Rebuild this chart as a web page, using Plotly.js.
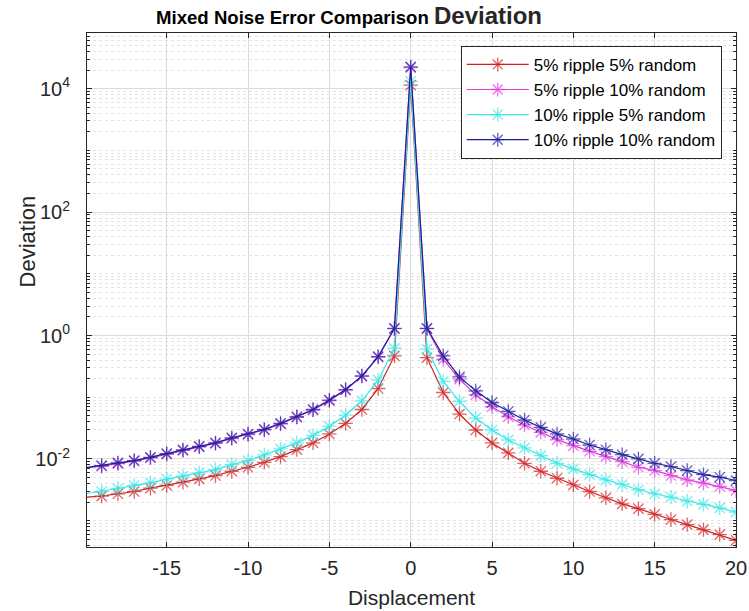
<!DOCTYPE html>
<html>
<head>
<meta charset="utf-8">
<script src="https://cdn.plot.ly/plotly-3.0.1.min.js"></script>
<style>html,body{margin:0;padding:0;background:#fff;}#chart{width:749px;height:611px;}</style>
</head>
<body>
<div id="chart"></div>
<script>
// Displacement values
const displacement = [-20,-19,-18,-17,-16,-15,-14,-13,-12,-11,-10,-9,-8,-7,-6,-5,-4,-3,-2,-1,0,1,2,3,4,5,6,7,8,9,10,11,12,13,14,15,16,17,18,19,20];

// Series names
const seriesNames = ["5% ripple 5% random", "5% ripple 10% random", "10% ripple 5% random", "10% ripple 10% random"];

// Deviation values
const r5n5 = [0.00240,0.00249,0.00272,0.00296,0.00335,0.00371,0.00419,0.00475,0.00537,0.00631,0.00731,0.00881,0.01089,0.01413,0.01816,0.02535,0.03758,0.0632,0.1384,0.4667,
  11430,
  0.4365,0.1191,0.0533,0.0294,0.01816,0.01250,0.00849,0.00631,0.00486,0.00380,0.00296,0.00234,0.00187,0.00156,0.00126,0.00104,0.000859,0.000713,0.000592,0.000479];
const r5n10 = [0.0071,0.0076,0.0084,0.0092,0.0104,0.0119,0.0137,0.0156,0.0178,0.0214,0.0248,0.0294,0.0368,0.0472,0.0620,0.0880,0.1305,0.2180,0.4480,1.29,
  22000,
  1.29,0.412,0.196,0.1094,0.0700,0.0482,0.0354,0.0269,0.0205,0.0164,0.0133,0.0109,0.00904,0.00731,0.00647,0.00537,0.00458,0.00404,0.00357,0.00308];
const r10n5 = [0.00272,0.00296,0.00331,0.00371,0.00409,0.00469,0.00525,0.00594,0.00671,0.00809,0.00940,0.01161,0.01452,0.01816,0.02404,0.03365,0.0514,0.0875,0.1888,0.621,
  13180,
  0.603,0.1795,0.0853,0.0459,0.0294,0.0203,0.01507,0.01130,0.00849,0.00689,0.00557,0.00458,0.00385,0.00316,0.00272,0.00240,0.00207,0.00183,0.00161,0.00137];
const r10n10 = [0.00724,0.00780,0.00861,0.00940,0.01062,0.01219,0.01400,0.01596,0.01816,0.02188,0.02535,0.03006,0.03758,0.04819,0.06324,0.08974,0.1330,0.2218,0.4550,1.306,
  22590,
  1.306,0.4667,0.2138,0.1268,0.0820,0.0587,0.0427,0.0324,0.0254,0.0210,0.0168,0.0141,0.0117,0.0100,0.00849,0.00752,0.00647,0.00557,0.00505,0.00446];

// Tick labels
const yTickVals = [1e-2, 1, 1e2, 1e4];
const yTickText = ["10<sup>-2</sup>", "10<sup>0</sup>", "10<sup>2</sup>", "10<sup>4</sup>"];
const xTickVals = [-15,-10,-5,0,5,10,15,20];
const xTickText = ["-15","-10","-5","0","5","10","15","20"];

const colors = ["#d02020", "#e03ce0", "#3ae6e6", "#1c1c9c"];
const allSeries = [r5n5, r5n10, r10n5, r10n10];

// marker sizes: hide the off-axis first point marker
const markerSizes = displacement.map(x => x < -19.5 ? 0 : 12);

const traces = allSeries.map((ys, i) => ({
  x: displacement,
  y: ys,
  name: seriesNames[i],
  type: "scatter",
  mode: "lines+markers",
  line: {color: colors[i], width: 1.2},
  marker: {symbol: "asterisk-open", size: markerSizes, color: colors[i], line: {color: colors[i], width: 1.3}}
}));

// minor log ticks
const minorVals = [];
for (let e = -4; e <= 4; e++) {
  for (let k = 1; k <= 9; k++) {
    if (k === 1 && e % 2 === 0) continue;
    minorVals.push(k * Math.pow(10, e));
  }
}

const FONT = "Liberation Sans, Arial, sans-serif";
const tickFont = {family: FONT, size: 20, color: "#262626"};

const layout = {
  width: 749,
  height: 611,
  margin: {l: 87, r: 13, t: 33, b: 64},
  paper_bgcolor: "#ffffff",
  plot_bgcolor: "#ffffff",
  showlegend: true,
  title: {
    text: "<b>Mixed Noise Error Comparison</b> <b><span style=\"font-size:24px;color:#262626\">Deviation</span></b>",
    font: {family: FONT, size: 18.6, color: "#000000"},
    x: 0.466, xanchor: "center", y: 0.972, yanchor: "middle"
  },
  xaxis: {
    range: [-19.9, 20],
    tickmode: "array",
    tickvals: xTickVals,
    ticktext: xTickText,
    ticks: "inside", ticklen: 5, tickcolor: "#262626",
    showgrid: true, gridcolor: "#dcdcdc", gridwidth: 1,
    zeroline: false,
    showline: true, linecolor: "#262626", linewidth: 1, mirror: "ticks",
    tickfont: tickFont,
    ticklabelstandoff: 3,
    title: {text: "Displacement", font: {family: FONT, size: 21, color: "#262626"}, standoff: 12}
  },
  yaxis: {
    type: "log",
    range: [-3.428, 4.903],
    tickmode: "array",
    tickvals: yTickVals,
    ticktext: yTickText,
    ticks: "inside", ticklen: 5, tickcolor: "#262626",
    showgrid: true, gridcolor: "#dcdcdc", gridwidth: 1,
    zeroline: false,
    showline: true, linecolor: "#262626", linewidth: 1, mirror: "ticks",
    tickfont: tickFont,
    ticklabelstandoff: 12,
    minor: {tickmode: "array", tickvals: minorVals, ticks: "inside", ticklen: 3, tickcolor: "#262626", showgrid: true, gridcolor: "#e4e4e4", griddash: "dot", gridwidth: 1}
  },
  annotations: [{
    text: "Deviation", textangle: -90, showarrow: false,
    xref: "paper", yref: "paper", x: -0.092, y: 0.595, xanchor: "center", yanchor: "middle",
    font: {family: FONT, size: 22, color: "#262626"}
  }],
  legend: {
    x: 0.978, xanchor: "right", y: 0.975, yanchor: "top",
    bgcolor: "#ffffff", bordercolor: "#262626", borderwidth: 1,
    font: {family: FONT, size: 17, color: "#000000"},
    itemwidth: 62,
    tracegroupgap: 0
  }
};

Plotly.newPlot("chart", traces, layout, {displayModeBar: false, staticPlot: true});
</script>
</body>
</html>
